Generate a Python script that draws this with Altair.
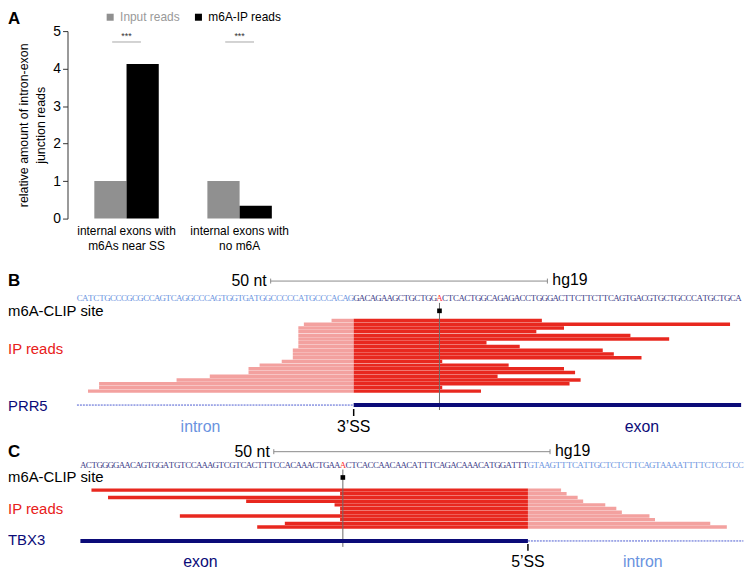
import altair as alt
import pandas as pd

# ---------------- Panel A data ----------------
categories = ["internal exons with m6As near SS", "internal exons with no m6A"]
series = ["Input reads", "m6A-IP reads"]
input_values = [1.0, 1.0]
ip_values = [4.12, 0.34]
sig_level = [4.71, 4.71]
sig_label = ["***", "***"]
y_ticks = [0, 1, 2, 3, 4, 5]

# ---------------- Panel B data (PRR5, 3'SS) ----------------
b_intron_seq = "CATCTGCCCGCGCCAGTCAGGCCCAGTGGTGATGGCCCCCATGCCCACAG"
b_exon_seq_1 = "GACAGAAGCTGCTGG"
b_site_seq = "A"
b_exon_seq_2 = "CTCACTGGCAGAGACCTGGGACTTCTTCTTCAGTGACGTGCTGCCCATGCTGCA"
b_read_start = [46, 41, 40, 40, 40, 40, 40, 40, 39, 39, 39, 37, 33, 31, 31, 24, 18, 4, 4, 2]
b_read_end = [84, 118, 88, 83, 100, 107, 74, 80, 95, 97, 102, 66, 78, 88, 90, 76, 91, 89, 66, 73]

# ---------------- Panel C data (TBX3, 5'SS) ----------------
c_exon_seq_1 = "ACTGGGGAACAGTGGATGTCCAAAGTCGTCACTTTCCACAAACTGAA"
c_site_seq = "A"
c_exon_seq_2 = "CTCACCAACAACATTTCAGACAAACATGGATTT"
c_intron_seq = "GTAAGTTTCATTGCTCTCTTCAGTAAAATTTTCTCCTCC"
c_read_start = [2, 47, 5, 30, 46, 47, 47, 18, 47, 37, 32]
c_read_end = [87, 88, 90, 91, 95, 97, 98, 103, 104, 114, 117]

scale_bar_start = 35
scale_bar_len = 50

FONT = "Liberation Sans"
RED = "#e8281f"
PINK = "#f3a19f"
NAVY = "#0b0b78"
LIGHTBLUE = "#6a93e0"

one = pd.DataFrame({"k": [0]})

# ---------------- Panel A ----------------
dfA = pd.DataFrame({
    "category": [c for c in categories for _ in series],
    "series": series * len(categories),
    "value": [v for pair in zip(input_values, ip_values) for v in pair],
})
dfSig = pd.DataFrame({"category": categories, "sig": sig_level, "label": sig_label})

xA = alt.X(
    "category:N", sort=categories,
    scale=alt.Scale(paddingInner=0.43, paddingOuter=0.237),
    axis=alt.Axis(title=None, domain=False, ticks=False, tickSize=0, labelAngle=0,
                  labelPadding=7, labelFontSize=12, labelLineHeight=15, labelColor="black",
                  labelExpr="[slice(datum.label, 0, 19), trim(slice(datum.label, 19))]"),
)
yScaleA = alt.Scale(domain=[0, 5], nice=False)
yAxisA = alt.Axis(values=y_ticks, format="d", tickSize=5, domainColor="#333333", tickColor="#333333",
                  labelFontSize=14, labelColor="black", labelPadding=2, grid=False,
                  title=["relative amount of intron-exon", "junction reads"],
                  titleFontSize=12.5, titleFontWeight="normal", titleColor="black",
                  titleX=-44.5, titleY=94.5, titleAngle=270, titleAlign="center",
                  titleBaseline="middle", titleLineHeight=17)

bars = alt.Chart(dfA).mark_bar().encode(
    x=xA,
    xOffset=alt.XOffset("series:N", sort=series, scale=alt.Scale(paddingInner=0, paddingOuter=0)),
    y=alt.Y("value:Q", scale=yScaleA, axis=yAxisA),
    color=alt.Color("series:N", sort=series,
                    scale=alt.Scale(domain=series, range=["#909090", "#000000"]),
                    legend=alt.Legend(orient="none", legendX=37, legendY=-20, direction="horizontal",
                                      title=None, symbolType="square", symbolSize=50,
                                      symbolStrokeWidth=0, labelFontSize=12, labelOffset=4,
                                      columnPadding=12,
                                      labelColor={"expr": "datum.label == 'Input reads' ? '#999999' : '#000000'"})),
)
sig_line = alt.Chart(dfSig).mark_tick(orient="horizontal", size=29, thickness=1, color="#808080").encode(
    x=xA, y=alt.Y("sig:Q", scale=yScaleA, axis=yAxisA))
sig_txt = alt.Chart(dfSig).mark_text(fontSize=9, dy=-6, color="#333333").encode(
    x=xA, y=alt.Y("sig:Q", scale=yScaleA, axis=yAxisA), text="label:N")
letterA = alt.Chart(one).mark_text(text="A", fontSize=17, fontWeight="bold", align="left",
                                   baseline="middle").encode(x=alt.value(-60), y=alt.value(-12))
panelA = alt.layer(bars, sig_line, sig_txt, letterA).properties(width=233, height=189)


# ---------------- helper for tracks ----------------
def seq_table(parts):
    rows, pos = [], 0
    for kind, s in parts:
        for ch in s:
            rows.append({"pos": pos + 0.5, "base": ch, "kind": kind})
            pos += 1
    return pd.DataFrame(rows)


def read_segments(starts, ends, boundary, left_kind, right_kind):
    rows = []
    for i, (s, e) in enumerate(zip(starts, ends)):
        if s < boundary:
            rows.append({"row": i, "row2": i + 0.92, "x1": s, "x2": min(e, boundary), "kind": left_kind})
        if e > boundary:
            rows.append({"row": i, "row2": i + 0.92, "x1": max(s, boundary), "x2": e, "kind": right_kind})
    return pd.DataFrame(rows)


def track(letter, seq_df, seg_df, n_rows, boundary, site, total, gene_name, gene_parts, ss_label,
          region_labels, P):
    xs = alt.Scale(domain=[0, total], range=P["xrange"])

    def xd(v):
        return alt.XDatum(v, type="quantitative", scale=xs, axis=None)

    L = []
    L.append(alt.Chart(one).mark_text(text=letter, fontSize=17, fontWeight="bold", align="left",
                                      baseline="middle").encode(x=alt.value(-60), y=alt.value(P["letter_y"])))
    # scale bar
    sb0, sb1 = scale_bar_start, scale_bar_start + scale_bar_len
    L.append(alt.Chart(one).mark_rule(color="#8a8a8a", strokeWidth=1).encode(
        x=xd(sb0), x2=alt.X2Datum(sb1), y=alt.value(P["letter_y"])))
    for v in (sb0, sb1):
        L.append(alt.Chart(one).mark_rule(color="#8a8a8a", strokeWidth=1).encode(
            x=xd(v), y=alt.value(P["letter_y"] - 2.5), y2=alt.value(P["letter_y"] + 2.5)))
    L.append(alt.Chart(one).mark_text(text=f"{scale_bar_len} nt", fontSize=16, align="right", dx=-4,
                                      baseline="middle").encode(x=xd(sb0), y=alt.value(P["letter_y"])))
    L.append(alt.Chart(one).mark_text(text="hg19", fontSize=16, align="left", dx=5,
                                      baseline="middle").encode(x=xd(sb1), y=alt.value(P["letter_y"] - 1)))
    # sequence
    seq_colors = {"intron": LIGHTBLUE, "exon": "#404088", "site": "#ff3030"}
    for kind, col in seq_colors.items():
        L.append(alt.Chart(seq_df).transform_filter(alt.datum.kind == kind).mark_text(
            font="Liberation Serif", fontSize=9, color=col, baseline="middle").encode(
            x=alt.X("pos:Q", scale=xs, axis=None), y=alt.value(P["seq_y"]), text="base:N"))
    # left labels
    L.append(alt.Chart(one).mark_text(text="m6A-CLIP site", fontSize=15, align="left",
                                      baseline="middle").encode(x=alt.value(-60), y=alt.value(P["clip_y"])))
    L.append(alt.Chart(one).mark_text(text="IP reads", fontSize=15, align="left", color="#e8201a",
                                      baseline="middle").encode(x=alt.value(-60), y=alt.value(P["ip_y"])))
    L.append(alt.Chart(one).mark_text(text=gene_name, fontSize=15, align="left", color=NAVY,
                                      baseline="middle").encode(x=alt.value(-60), y=alt.value(P["name_y"])))
    # reads
    for kind, col in (("intron", PINK), ("exon", RED)):
        L.append(alt.Chart(seg_df).transform_filter(alt.datum.kind == kind).mark_rect(color=col).encode(
            x=alt.X("x1:Q", scale=xs, axis=None), x2="x2:Q",
            y=alt.Y("row:Q", scale=alt.Scale(domain=[0, n_rows], range=P["reads"]), axis=None),
            y2="row2:Q"))
    # site line and marker
    L.append(alt.Chart(one).mark_rule(color="#6b6b6b", strokeWidth=1).encode(
        x=xd(site + 0.5), y=alt.value(P["vline"][0]), y2=alt.value(P["vline"][1])))
    L.append(alt.Chart(one).mark_square(size=22, color="black", opacity=1).encode(
        x=xd(site + 0.5), y=alt.value(P["clip_y"])))
    # gene structure
    for kind, a, b in gene_parts:
        if kind == "exon":
            L.append(alt.Chart(one).mark_rule(color=NAVY, strokeWidth=4).encode(
                x=xd(a), x2=alt.X2Datum(b), y=alt.value(P["gene_y"])))
        else:
            L.append(alt.Chart(one).mark_rule(color="#4a5ad0", strokeWidth=1, strokeDash=[2, 1]).encode(
                x=xd(a), x2=alt.X2Datum(b), y=alt.value(P["gene_y"])))
    L.append(alt.Chart(one).mark_rule(color="black", strokeWidth=1.5).encode(
        x=xd(boundary), y=alt.value(P["tick"][0]), y2=alt.value(P["tick"][1])))
    L.append(alt.Chart(one).mark_text(text=ss_label, fontSize=16, baseline="middle").encode(
        x=xd(boundary), y=alt.value(P["lab_y"])))
    for txt, col, xpix in region_labels:
        L.append(alt.Chart(one).mark_text(text=txt, fontSize=16, color=col, baseline="middle").encode(
            x=alt.value(xpix), y=alt.value(P["lab_y"])))
    return alt.layer(*L)


# ---------------- Panel B ----------------
seqB = seq_table([("intron", b_intron_seq), ("exon", b_exon_seq_1), ("site", b_site_seq), ("exon", b_exon_seq_2)])
b_ss = len(b_intron_seq)
b_site = len(b_intron_seq) + len(b_exon_seq_1)
b_total = len(seqB)
segB = read_segments(b_read_start, b_read_end, b_ss, "intron", "exon")
PB = dict(xrange=[9.5, 9.5 + 120 * 5.58], letter_y=53, seq_y=70, clip_y=83, vline=(75, 183),
          reads=[91, 166], ip_y=122, gene_y=178, name_y=179, tick=(182, 189), lab_y=200)
panelB = track("B", seqB, segB, len(b_read_start), b_ss, b_site, b_total, "PRR5",
               [("intron", 0, b_ss), ("exon", b_ss, b_total)], "3\u2019SS",
               [("intron", LIGHTBLUE, 134), ("exon", NAVY, 579)], PB).properties(width=680, height=208)

# ---------------- Panel C ----------------
seqC = seq_table([("exon", c_exon_seq_1), ("site", c_site_seq), ("exon", c_exon_seq_2), ("intron", c_intron_seq)])
c_ss = len(c_exon_seq_1) + len(c_site_seq) + len(c_exon_seq_2)
c_site = len(c_exon_seq_1)
c_total = len(seqC)
segC = read_segments(c_read_start, c_read_end, c_ss, "exon", "intron")
PC = dict(xrange=[13, 13 + 120 * 5.57], letter_y=7, seq_y=20, clip_y=33, vline=(25, 103),
          reads=[44, 85], ip_y=65, gene_y=97, name_y=96, tick=(100, 107), lab_y=118)
panelC = track("C", seqC, segC, len(c_read_start), c_ss, c_site, c_total, "TBX3",
               [("exon", 0, c_ss), ("intron", c_ss, c_total)], "5\u2019SS",
               [("exon", NAVY, 134), ("intron", LIGHTBLUE, 580)], PC).properties(width=680, height=115)

chart = alt.vconcat(panelA, panelB, panelC, spacing=10, bounds="flush", padding=0).configure(
    font=FONT).configure_view(strokeWidth=0)

chart.save("out.html", embed_options={"renderer": "svg", "actions": False})
